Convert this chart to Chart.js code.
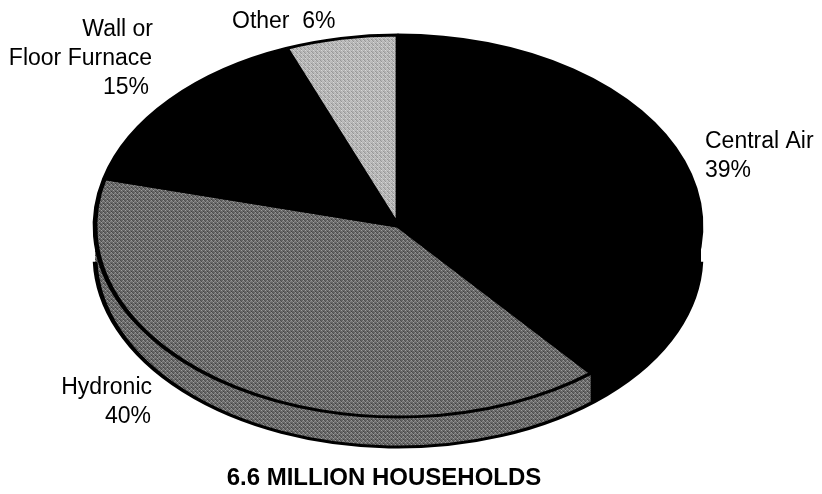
<!DOCTYPE html>
<html lang="en">

<head>
    <meta charset="UTF-8">
    <title>Heating Systems</title>
    <script src="https://cdn.jsdelivr.net/npm/chart.js"></script>
    <style>
        body { margin: 0; background: #fff; }
    </style>
</head>

<body>
    <canvas id="pieChart" width="822" height="494"></canvas>

    <script>
        // Data
        const categories = ["Central Air", "Hydronic", "Wall or Floor Furnace", "Other"];
        const shares = [39, 40, 15, 6];
        const totalLabel = "6.6 MILLION HOUSEHOLDS";

        // Look of the tilted pie
        const stretchX = 303 / 191;   // ellipse width / height
        const depth = 30;             // thickness of the pie side

        // Small dither tiles so the greys look like the print
        function dither(levels) {
            const c = document.createElement("canvas");
            c.width = 4; c.height = 4;
            const g = c.getContext("2d");
            levels.forEach((v, k) => {
                g.fillStyle = `rgb(${v},${v},${v})`;
                g.fillRect(k % 4, Math.floor(k / 4), 1, 1);
            });
            const p = g.createPattern(c, "repeat");
            p.setTransform(new DOMMatrix().scale(1 / stretchX, 1));
            return p;
        }

        const darkGrey = dither([215, 45, 140, 30, 80, 190, 25, 160, 150, 35, 210, 70, 25, 130, 60, 175]);
        const lightGrey = dither([255, 120, 210, 140, 150, 240, 110, 220, 230, 130, 255, 150, 120, 200, 140, 245]);
        const fills = ["#000", darkGrey, "#000", lightGrey];

        // Squash the round pie into an ellipse and give it a side wall
        const tiltPlugin = {
            id: "tilt",
            beforeDatasetsDraw(chart) {
                const ctx = chart.ctx;
                const arcs = chart.getDatasetMeta(0).data;
                const cx = arcs[0].x;
                ctx.save();
                ctx.translate(cx, 0);
                ctx.scale(stretchX, 1);
                ctx.translate(-cx, 0);

                // side wall layers
                for (let d = depth; d >= 1; d--) {
                    arcs.forEach((a, i) => {
                        ctx.beginPath();
                        ctx.moveTo(a.x, a.y + d);
                        ctx.arc(a.x, a.y + d, a.outerRadius, a.startAngle, a.endAngle);
                        ctx.closePath();
                        ctx.fillStyle = fills[i];
                        ctx.fill();
                    });
                }
                // bottom outline of the side wall
                const a0 = arcs[0];
                ctx.beginPath();
                ctx.arc(a0.x, a0.y + depth, a0.outerRadius, 0.03, Math.PI - 0.03);
                ctx.lineWidth = 3;
                ctx.strokeStyle = "#000";
                ctx.stroke();
            },
            afterDatasetsDraw(chart) {
                chart.ctx.restore();
            },
            afterDraw(chart) {
                const ctx = chart.ctx;
                ctx.save();
                ctx.fillStyle = "#000";
                ctx.font = "23px 'Liberation Sans', Arial, sans-serif";
                ctx.textBaseline = "alphabetic";

                // Central Air
                ctx.textAlign = "left";
                ctx.fillText(categories[0], 705, 148);
                ctx.fillText(shares[0] + "%", 705, 177);

                // Hydronic
                ctx.textAlign = "right";
                ctx.fillText(categories[1], 152, 394);
                ctx.fillText(shares[1] + "%", 151, 423);

                // Wall or Floor Furnace
                ctx.fillText("Wall or", 153, 36);
                ctx.fillText("Floor Furnace", 152, 65);
                ctx.fillText(shares[2] + "%", 149, 94);

                // Other
                ctx.textAlign = "left";
                ctx.fillText(categories[3] + "  " + shares[3] + "%", 232, 28);

                // total
                ctx.font = "bold 24px 'Liberation Sans', Arial, sans-serif";
                ctx.textAlign = "center";
                ctx.fillText(totalLabel, 384, 485);
                ctx.restore();
            }
        };

        new Chart(document.getElementById("pieChart"), {
            type: "pie",
            data: {
                labels: categories,
                datasets: [{
                    data: shares,
                    backgroundColor: fills,
                    borderColor: "#000",
                    borderWidth: 3,
                    hoverOffset: 0,
                    clip: false
                }]
            },
            options: {
                responsive: false,
                animation: false,
                radius: 191,
                layout: { padding: { left: 4, right: 30, top: 0, bottom: 42 } },
                plugins: {
                    legend: { display: false },
                    tooltip: { enabled: false }
                }
            },
            plugins: [tiltPlugin]
        });
    </script>
</body>

</html>
